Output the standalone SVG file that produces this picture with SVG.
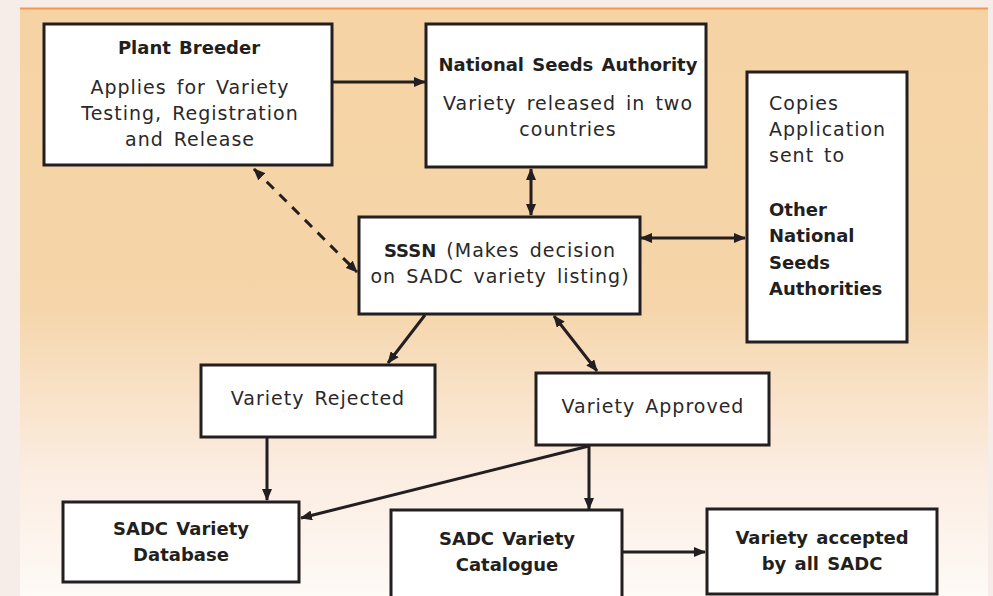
<svg xmlns="http://www.w3.org/2000/svg" width="993" height="596" viewBox="0 0 993 596">
<defs>
<linearGradient id="bg" x1="0" y1="0" x2="0" y2="1">
<stop offset="0" stop-color="#f5d3a4"/>
<stop offset="0.5" stop-color="#f5d5a9"/>
<stop offset="0.78" stop-color="#fbece0"/>
<stop offset="1" stop-color="#fefaf6"/>
</linearGradient>
<marker id="ah" viewBox="0 0 12 10" refX="11" refY="5" markerWidth="12" markerHeight="10" markerUnits="userSpaceOnUse" orient="auto-start-reverse">
<path d="M0,0 L12,5 L0,10 Z" fill="#231f20"/>
</marker>
<style>
.box{fill:#fff;stroke:#231f20;stroke-width:3}
.t{font-family:"DejaVu Sans","Liberation Sans",sans-serif;font-size:19px;fill:#2b2829;letter-spacing:1px;word-spacing:3px;text-anchor:middle}
.b{font-family:"DejaVu Sans","Liberation Sans",sans-serif;font-size:18px;font-weight:bold;fill:#231f20;word-spacing:2px;text-anchor:middle}
.l{text-anchor:start}
.c{fill:none;stroke:#231f20;stroke-width:3}
.bw{font-weight:bold;font-size:18px;fill:#231f20;letter-spacing:0}
</style>
</defs>
<rect x="0" y="0" width="993" height="596" fill="#f6ede8"/>
<rect x="20" y="8" width="968" height="588" fill="url(#bg)"/>
<line x1="20" y1="8.5" x2="988" y2="8.5" stroke="#f39a4a" stroke-width="2"/>

<g id="connectors">
<line class="c" x1="332" y1="82" x2="425" y2="82" marker-end="url(#ah)"/>
<line class="c" x1="531" y1="169" x2="531" y2="215" marker-start="url(#ah)" marker-end="url(#ah)"/>
<line class="c" x1="254" y1="169" x2="357" y2="272" stroke-dasharray="10,8" marker-start="url(#ah)" marker-end="url(#ah)"/>
<line class="c" x1="641" y1="238" x2="745" y2="238" marker-start="url(#ah)" marker-end="url(#ah)"/>
<line class="c" x1="425" y1="315" x2="388" y2="363" marker-end="url(#ah)"/>
<line class="c" x1="554" y1="316" x2="597" y2="371" marker-start="url(#ah)" marker-end="url(#ah)"/>
<line class="c" x1="267" y1="438" x2="267" y2="500" marker-end="url(#ah)"/>
<line class="c" x1="589" y1="446" x2="301" y2="518" marker-end="url(#ah)"/>
<line class="c" x1="589" y1="446" x2="589" y2="509" marker-end="url(#ah)"/>
<line class="c" x1="622" y1="552" x2="705" y2="552" marker-end="url(#ah)"/>
</g>

<g id="plant-breeder">
<rect class="box" x="44" y="24" width="288" height="141"/>
<text class="b" x="189" y="54">Plant Breeder</text>
<text class="t" x="190" y="94">Applies for Variety</text>
<text class="t" x="190" y="120">Testing, Registration</text>
<text class="t" x="190" y="146">and Release</text>
</g>

<g id="national-seeds-authority">
<rect class="box" x="426" y="24" width="280" height="143"/>
<text class="b" x="568" y="71">National Seeds Authority</text>
<text class="t" x="568" y="110">Variety released in two</text>
<text class="t" x="568" y="136">countries</text>
</g>

<g id="other-authorities">
<rect class="box" x="747" y="72" width="160" height="270"/>
<text class="t l" x="769" y="110">Copies</text>
<text class="t l" x="769" y="136">Application</text>
<text class="t l" x="769" y="162">sent to</text>
<text class="b l" x="769" y="216">Other</text>
<text class="b l" x="769" y="242">National</text>
<text class="b l" x="769" y="269">Seeds</text>
<text class="b l" x="769" y="295">Authorities</text>
</g>

<g id="sssn">
<rect class="box" x="359" y="217" width="281" height="97"/>
<text class="t" x="500" y="257"><tspan class="bw">SSSN</tspan> (Makes decision</text>
<text class="t" x="500" y="283">on SADC variety listing)</text>
</g>

<g id="variety-rejected">
<rect class="box" x="201" y="365" width="234" height="72"/>
<text class="t" x="318" y="405">Variety Rejected</text>
</g>

<g id="variety-approved">
<rect class="box" x="536" y="373" width="233" height="72"/>
<text class="t" x="653" y="413">Variety Approved</text>
</g>

<g id="sadc-database">
<rect class="box" x="63" y="502" width="236" height="80"/>
<text class="b" x="181" y="535">SADC Variety</text>
<text class="b" x="181" y="561">Database</text>
</g>

<g id="sadc-catalogue">
<rect class="box" x="391" y="510" width="231" height="90"/>
<text class="b" x="507" y="545">SADC Variety</text>
<text class="b" x="507" y="571">Catalogue</text>
</g>

<g id="variety-accepted">
<rect class="box" x="707" y="509" width="230" height="85"/>
<text class="b" x="822" y="544">Variety accepted</text>
<text class="b" x="822" y="570">by all SADC</text>
</g>
</svg>
